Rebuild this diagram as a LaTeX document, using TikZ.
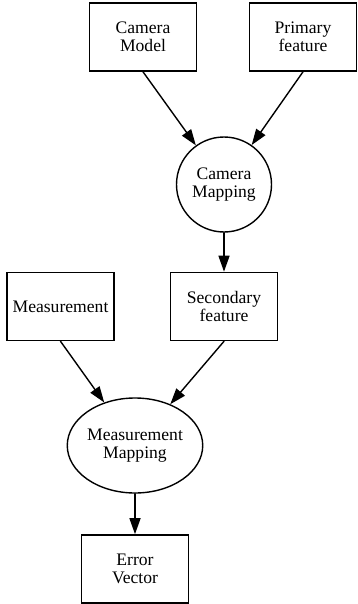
\documentclass[tikz,border=0pt]{standalone}
\usepackage{fontspec}
\setmainfont{Liberation Serif}
\usetikzlibrary{arrows.meta,shapes.geometric}

\begin{document}
\begin{tikzpicture}[x=1pt, y=-1pt, line cap=round,
  every node/.style={font=\fontsize{17.6}{17.5}\selectfont, align=center, inner sep=0pt},
  databox/.style={draw, rectangle, line width=1.6pt, minimum width=107pt, minimum height=68pt},
  camcircle/.style={draw, circle, line width=1.4pt, minimum size=95pt},
  measellipse/.style={draw, ellipse, line width=1.4pt, minimum width=120pt, minimum height=95pt},
  flow/.style={line width=1.4pt, -{Triangle[length=16pt,width=11pt]}}]
  \useasboundingbox (0,0) rectangle (357,604);

  % knopen
  \node[databox] (cammodel) at (143,37) {Camera\\Model};
  \node[databox] (primary)  at (303,37) {Primary\\feature};
  \node[camcircle] (cammap) at (224,184.5) {Camera\\Mapping};
  \node[databox] (meas)      at (60.5,306.5) {Measurement};
  \node[databox] (secondary) at (224,306.5) {Secondary\\feature};
  \node[measellipse] (measmap) at (135,445.5) {Measurement\\Mapping};
  \node[databox] (error)    at (135,569) {Error\\Vector};

  % pijlen
  \draw[flow] (cammodel.south) -- (cammap);
  \draw[flow] (primary.south) -- (cammap);
  \draw[flow] (cammap) -- (secondary);
  \draw[flow] (meas.south) -- (measmap);
  \draw[flow] (secondary.south) -- (measmap);
  \draw[flow] (measmap) -- (error);
\end{tikzpicture}
\end{document}
